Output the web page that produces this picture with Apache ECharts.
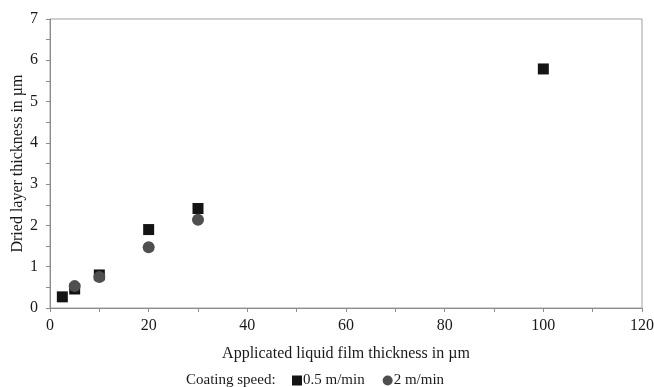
<!DOCTYPE html>
<html>
<head>
<meta charset="utf-8">
<script src="https://cdn.jsdelivr.net/npm/echarts@6/dist/echarts.min.js"></script>
<style>
  html, body { margin: 0; padding: 0; background: #fff; }
  #chart { width: 654px; height: 387px; }
</style>
</head>
<body>
<div id="chart"></div>
<script>
// Applied wet film thickness (µm) and resulting dried layer thickness (µm)
const slowFilm = [2.5, 5, 10, 20, 30, 100];
const slowDried = [0.27, 0.46, 0.8, 1.9, 2.41, 5.79];
const fastFilm = [5, 10, 20, 30];
const fastDried = [0.53, 0.75, 1.47, 2.14];
const seriesNames = ['0.5 m/min', '2 m/min'];

const pairs = (xs, ys) => xs.map((x, i) => [x, ys[i]]);
const font = 'Liberation Serif, Times New Roman, serif';
const axisGrey = '#8c8c8c';
const textColor = '#1a1a1a';

const chart = echarts.init(document.getElementById('chart'));
chart.setOption({
  animation: false,
  textStyle: { fontFamily: font },
  grid: {
    left: 50, right: 12, top: 19, bottom: 79,
    outerBoundsMode: 'none', containLabel: false,
    show: true, borderColor: '#a0a0a0', borderWidth: 1
  },
  xAxis: {
    type: 'value', min: 0, max: 120, interval: 20,
    name: 'Applicated liquid film thickness in µm',
    nameLocation: 'middle', nameGap: 38,
    nameTextStyle: { fontFamily: font, fontSize: 16, color: textColor },
    axisLine: { show: true, lineStyle: { color: axisGrey } },
    axisTick: { show: true, length: 4, lineStyle: { color: axisGrey } },
    minorTick: { show: true, splitNumber: 2, length: 4, lineStyle: { color: axisGrey } },
    axisLabel: { fontFamily: font, fontSize: 16, color: textColor, margin: 10 },
    splitLine: { show: false }
  },
  yAxis: {
    type: 'value', min: 0, max: 7, interval: 1,
    name: 'Dried layer thickness in µm',
    nameLocation: 'middle', nameGap: 24, nameMoveOverlap: false,
    nameTextStyle: { fontFamily: font, fontSize: 16, color: textColor },
    axisLine: { show: true, lineStyle: { color: axisGrey } },
    axisTick: { show: true, length: 4, lineStyle: { color: axisGrey } },
    minorTick: { show: true, splitNumber: 2, length: 4, lineStyle: { color: axisGrey } },
    axisLabel: { fontFamily: font, fontSize: 16, color: textColor, margin: 12 },
    splitLine: { show: false }
  },
  legend: {
    left: 287, top: 368, itemGap: 18, itemWidth: 10, itemHeight: 10,
    textStyle: { fontFamily: font, fontSize: 15, color: textColor, padding: [0, 0, 0, -4] },
    data: [
      { name: seriesNames[0], icon: 'rect' },
      { name: seriesNames[1], icon: 'circle' }
    ]
  },
  graphic: [{
    type: 'text', left: 186, top: 373,
    style: { text: 'Coating speed:', fontFamily: font, fontSize: 15, fill: textColor }
  }],
  series: [
    {
      name: seriesNames[0], type: 'scatter', symbol: 'rect', symbolSize: 11,
      itemStyle: { color: '#141414', opacity: 1 },
      data: pairs(slowFilm, slowDried)
    },
    {
      name: seriesNames[1], type: 'scatter', symbol: 'circle', symbolSize: 12,
      itemStyle: { color: '#4f4f4f', opacity: 1 },
      data: pairs(fastFilm, fastDried)
    }
  ]
});
</script>
</body>
</html>
